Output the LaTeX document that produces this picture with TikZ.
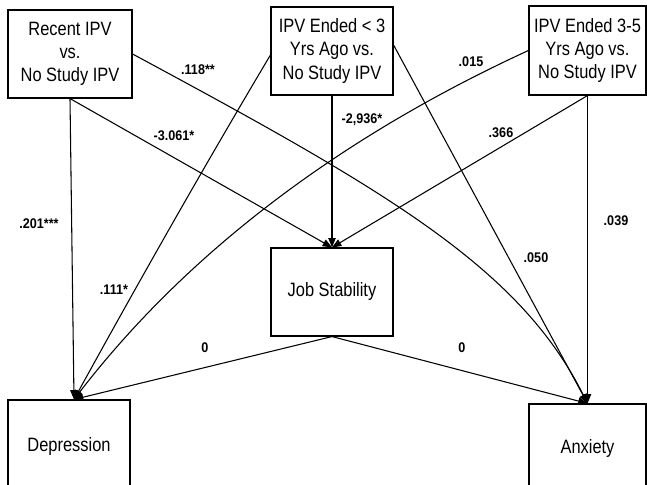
\documentclass[tikz,border=0pt]{standalone}
\usepackage{fontspec}
\setmainfont{Liberation Sans}[FakeStretch=0.85]
\newfontfamily\lblfont{Liberation Sans}[FakeStretch=0.9]
\usetikzlibrary{arrows.meta}
\begin{document}
\begin{tikzpicture}[x=0.75pt,y=-0.75pt,
  box/.style={draw, line width=0.85pt, align=center, inner sep=0pt,
    font=\fontsize{14.5}{17.5}\selectfont},
  conn/.style={line width=0.8pt, -{Triangle[length=7pt,width=5.5pt]}},
  lbl/.style={font=\lblfont\bfseries\fontsize{10.5}{12}\selectfont, inner sep=0pt}]
\useasboundingbox (0,0) rectangle (647,485);
\fill[white] (0,0) rectangle (647,485);
% boxes
\node[box, minimum width=93pt, minimum height=66pt] (A) at (70,54) {Recent IPV\\vs.\\No Study IPV};
\node[box, minimum width=91.5pt, minimum height=66pt] (B) at (332,51) {IPV Ended {<} 3\\Yrs Ago vs.\\No Study IPV};
\node[box, minimum width=87.75pt, minimum height=66.75pt] (C) at (587.5,50.5) {IPV Ended 3-5\\Yrs Ago vs.\\No Study IPV};
\node[box, minimum width=91.5pt, minimum height=66pt] (J) at (332,292) {Job Stability};
\node[box, minimum width=91.5pt, minimum height=69pt] (D) at (69,446) {Depression};
\node[box, minimum width=87.75pt, minimum height=66pt] (X) at (587.5,448) {Anxiety};
% anchor points
\coordinate (Din) at ([xshift=3.75pt]D.north);
\coordinate (Bl) at ([yshift=-3pt]B.west);
\coordinate (Br) at ([yshift=4.5pt]B.east);
% connectors
\draw[conn] (A.south) -- (Din);
\draw[conn] (A.east) .. controls (387,191) and (519.5,267.5) .. (X.north);
\draw[conn] (A.south) -- (J.north);
\draw[conn] (Bl) .. controls (202,170) and (137,285) .. (Din);
\draw[conn] (B.south) -- (J.north);
\draw[conn] (Br) -- (X.north);
\draw[conn] (C.west) .. controls (338,138) and (186,254) .. (Din);
\draw[conn] (C.south) -- (J.north);
\draw[conn] (C.south) -- (X.north);
\draw[conn] (J.south) -- (Din);
\draw[conn] (J.south) -- (X.north);
% labels
\node[lbl] (l1) at (198,70) {.118**};
\node[lbl] (l2) at (174,136) {-3.061*};
\node[lbl] (l3) at (362,120) {-2,936*};
\node[lbl] (l4) at (471,62) {.015};
\node[lbl] (l5) at (501,133) {.366};
\node[lbl] (l6) at (39,224) {.201***};
\node[lbl] (l7) at (114,290) {.111*};
\node[lbl] (l8) at (205,348) {0};
\node[lbl] (l9) at (462,348) {0};
\node[lbl] (l10) at (536,258) {.050};
\node[lbl] (l11) at (616,221) {.039};
\end{tikzpicture}
\end{document}
